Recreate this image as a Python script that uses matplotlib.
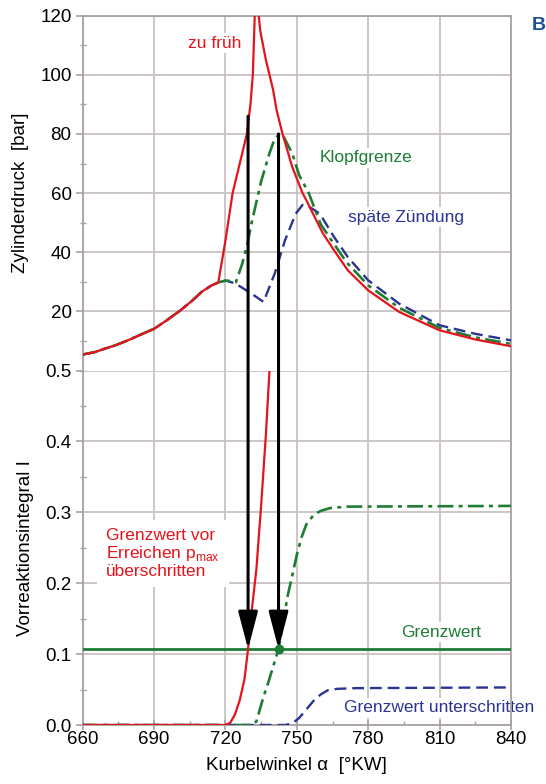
import matplotlib
matplotlib.use("Agg")
import matplotlib.pyplot as plt
from matplotlib.patches import ConnectionPatch
from matplotlib.ticker import MultipleLocator

plt.rcParams['font.family'] = ['Liberation Sans', 'DejaVu Sans']

# ---------------- data ----------------
# shared compression part (all three cases identical up to ~717 °KW)
comp_deg = [660, 665, 669, 674, 679, 684, 690, 695, 701, 706, 710, 714, 717]
comp_p = [5.4, 6.2, 7.3, 8.6, 10.2, 12.0, 14.1, 16.8, 20.3, 23.6, 26.6, 28.7, 29.8]

red_deg = [720, 723, 726, 729, 730.5, 731.5, 732.3, 733.5, 734.6, 737, 740, 741.5,
           744, 748, 752.4, 754, 756.8, 761, 765.6, 771.4, 780, 793, 810, 825, 840]
red_p = [44, 60, 70, 80, 90, 100, 120, 124, 115, 105, 95, 88,
         80, 69, 60, 57.6, 53, 46.3, 40.7, 33.9, 27.1, 19.8, 13.6, 10.5, 8.2]

green_deg = [720, 722, 724.4, 727, 729, 731, 733, 735, 738.5, 740.5, 742.6, 744.5,
             748, 751, 755, 760, 765, 771, 780, 793, 810, 825, 840]
green_p = [30.4, 30.3, 29.9, 36, 42, 50, 57, 64, 73.5, 78, 80, 79,
           73.5, 66, 60, 49.5, 43.5, 36.5, 28.8, 21.2, 14.4, 11.2, 9.0]

blue_deg = [720, 724, 728, 732, 736, 740.7, 745, 749.5, 752.4, 755, 759.7, 765.6,
            771.4, 780, 793, 810, 825, 840]
blue_p = [30.4, 29.5, 27.5, 25.4, 23.2, 32.8, 44, 53, 56, 55.5, 53, 45.2,
          38.4, 30.5, 22.6, 15.3, 12.4, 10.2]

# pre-reaction integral I
red_I_deg = [660, 720, 722, 724, 726, 728, 729.5, 731, 733, 735, 737, 738.5, 739]
red_I = [0, 0, 0.003, 0.015, 0.035, 0.065, 0.107, 0.16, 0.22, 0.31, 0.41, 0.5, 0.53]

green_I_deg = [660, 731, 733, 736, 738, 740, 742.3, 744.4, 746, 748, 750, 752,
               754, 757, 760, 764, 771, 840]
green_I = [0, 0, 0.005, 0.04, 0.06, 0.082, 0.107, 0.147, 0.18, 0.21, 0.24, 0.265,
           0.283, 0.296, 0.302, 0.306, 0.308, 0.309]

blue_I_deg = [660, 745, 748, 751, 754, 757, 760, 763, 767, 775, 840]
blue_I = [0, 0, 0.002, 0.01, 0.022, 0.034, 0.043, 0.049, 0.051, 0.052, 0.053]

grenzwert = 0.107
arrow_deg = [729.5, 742.3]
arrow_top_p = [86, 80]

x_ticks = [660, 690, 720, 750, 780, 810, 840]
p_ticks = [20, 40, 60, 80, 100, 120]
I_ticks = [0.0, 0.1, 0.2, 0.3, 0.4, 0.5]
I_ticklabels = ["0.0", "0.1", "0.2", "0.3", "0.4", "0.5"]

# ---------------- style ----------------
RED = "#e5141b"
GREEN = "#1d7d35"
BLUE = "#2a3592"
GRID = "#c9c2c2"
SPINE = "#a9a1a1"

W, H = 546, 784
fig = plt.figure(figsize=(W / 100, H / 100), dpi=100)
left, right = 82.7 / W, 511 / W
top_t, top_b = 1 - 15.7 / H, 1 - 370.5 / H
bot_b = 1 - 725 / H
ax_top = fig.add_axes([left, top_b, right - left, top_t - top_b])
ax_bot = fig.add_axes([left, bot_b, right - left, top_b - bot_b])

for ax in (ax_top, ax_bot):
    ax.set_xlim(660, 840)
    ax.set_xticks(x_ticks)
    ax.xaxis.set_minor_locator(MultipleLocator(15))
    ax.grid(True, which='major', color=GRID, lw=1.3, zorder=0)
    ax.set_axisbelow(True)
    for s in ax.spines.values():
        s.set_color(SPINE)
        s.set_linewidth(1.3)
    ax.tick_params(which='both', colors=SPINE, labelcolor='black', labelsize=13.5)
    ax.tick_params(axis='y', which='major', direction='out', length=5, width=1.2, pad=3)
    ax.tick_params(axis='y', which='minor', direction='inout', length=4, width=1.0)
    ax.tick_params(axis='x', which='major', direction='inout', length=7, width=1.2, pad=1)
    ax.tick_params(axis='x', which='minor', direction='in', length=3, width=1.0)

ax_top.spines['bottom'].set_visible(False)
ax_bot.spines['top'].set_visible(False)
ax_top.tick_params(axis='x', which='both', bottom=False, labelbottom=False)

# top panel
ax_top.set_ylim(0, 120)
ax_top.set_yticks(p_ticks)
ax_top.yaxis.set_minor_locator(MultipleLocator(10))
ax_top.plot(comp_deg + blue_deg, comp_p + blue_p, color=BLUE, lw=1.7,
            dashes=(5, 2.5), zorder=3)
ax_top.plot(comp_deg + green_deg, comp_p + green_p, color=GREEN, lw=1.9,
            dashes=(6, 2, 1.5, 2), zorder=4)
ax_top.plot(comp_deg + red_deg, comp_p + red_p, color=RED, lw=1.6, zorder=5)
ax_top.set_ylabel("Zylinderdruck  [bar]", fontsize=13.5, labelpad=8)

bbox = dict(boxstyle='square,pad=0.15', fc='white', ec='none')
ax_top.text(715.6, 110.7, "zu früh", color=RED, fontsize=12.5, ha='center',
            va='center', bbox=bbox, zorder=2)
ax_top.text(779, 72, "Klopfgrenze", color=GREEN, fontsize=12.5, ha='center',
            va='center', bbox=bbox, zorder=2)
ax_top.text(796, 51.8, "späte Zündung", color=BLUE, fontsize=12.5, ha='center',
            va='center', bbox=bbox, zorder=2)

# bottom panel
ax_bot.set_ylim(0, 0.5)
ax_bot.set_yticks(I_ticks)
ax_bot.set_yticklabels(I_ticklabels)
ax_bot.yaxis.set_minor_locator(MultipleLocator(0.05))
ax_bot.axhline(grenzwert, color=GREEN, lw=2.0, zorder=3)
ax_bot.plot(blue_I_deg, blue_I, color=BLUE, lw=1.7, dashes=(5, 2.5), zorder=4)
ax_bot.plot(green_I_deg, green_I, color=GREEN, lw=1.9,
            dashes=(6, 2, 1.5, 2), zorder=4)
ax_bot.plot(red_I_deg, red_I, color=RED, lw=1.6, zorder=5)
ax_bot.plot([arrow_deg[1]], [grenzwert], 'o', color=GREEN, ms=6, zorder=7)
ax_bot.set_ylabel("Vorreaktionsintegral I", fontsize=13.5, labelpad=8)
ax_bot.set_xlabel("Kurbelwinkel α  [°KW]", fontsize=13.5, labelpad=6)

ax_bot.text(669.8, 0.242, "Grenzwert vor\nErreichen p$_{\\mathregular{max}}$\nüberschritten",
            color=RED, fontsize=12.5, ha='left', va='center', linespacing=1.05,
            bbox=dict(boxstyle='square,pad=0.5', fc='white', ec='none'), zorder=2)
ax_bot.text(810.6, 0.131, "Grenzwert", color=GREEN, fontsize=12.5, ha='center',
            va='center', bbox=bbox, zorder=2)
ax_bot.text(810, 0.024, "Grenzwert unterschritten", color=BLUE, fontsize=12.5,
            ha='center', va='center', bbox=bbox, zorder=2, clip_on=False)

# arrows spanning both panels
for xd, pt in zip(arrow_deg, arrow_top_p):
    con = ConnectionPatch(xyA=(xd, pt), coordsA=ax_top.transData,
                          xyB=(xd, grenzwert), coordsB=ax_bot.transData,
                          arrowstyle="-|>,head_length=1.15,head_width=0.3",
                          mutation_scale=20, color='black', lw=2.2,
                          shrinkA=0, shrinkB=0, zorder=6)
    fig.add_artist(con)

fig.text(532 / W, 1 - 26 / H, "B", color="#1f4f99", fontsize=14,
         fontweight='bold', ha='left', va='center')

fig.savefig("out.png", dpi=100)
